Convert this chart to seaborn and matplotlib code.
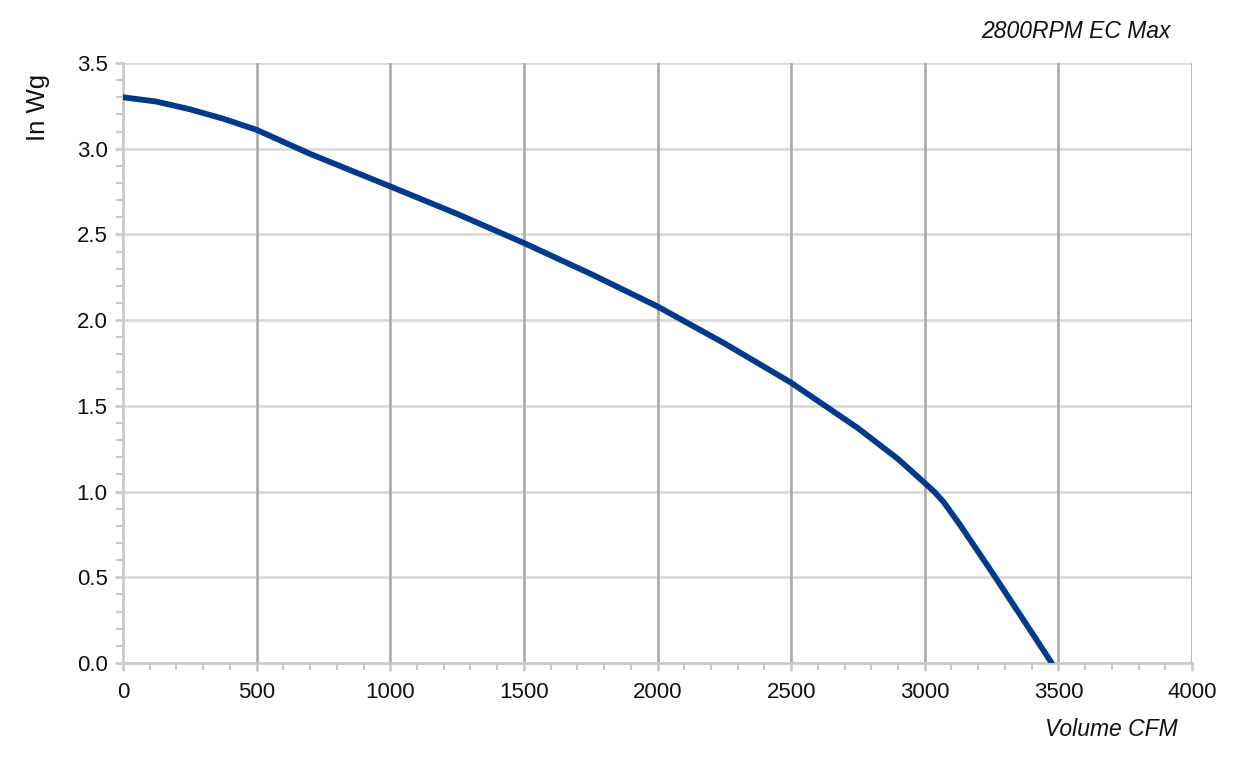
import matplotlib
matplotlib.use("Agg")
import matplotlib.pyplot as plt
from matplotlib.ticker import MultipleLocator
import seaborn as sns
import pandas as pd

# Data
volume_cfm = [0, 125, 250, 375, 500, 600, 700, 850, 1000, 1250, 1500, 1750, 2000,
              2250, 2500, 2750, 2900, 3000, 3035, 3070, 3130, 3245, 3370, 3475]
pressure_inwg = [3.30, 3.275, 3.23, 3.175, 3.11, 3.04, 2.97, 2.875, 2.78, 2.62, 2.45, 2.27, 2.08,
                 1.865, 1.635, 1.37, 1.19, 1.05, 1.0, 0.94, 0.81, 0.545, 0.25, 0.0]
x_ticks = [0, 500, 1000, 1500, 2000, 2500, 3000, 3500, 4000]
y_ticks = [0.0, 0.5, 1.0, 1.5, 2.0, 2.5, 3.0, 3.5]
title_text = "2800RPM EC Max"
x_label = "Volume CFM"
y_label = "In Wg"

df = pd.DataFrame({"cfm": volume_cfm, "inwg": pressure_inwg})

sns.set_theme(style="white")
plt.rcParams["font.family"] = ["Liberation Sans", "DejaVu Sans"]

fig = plt.figure(figsize=(12.45, 7.6), dpi=100)
ax = fig.add_axes([123 / 1245, 1 - 663 / 760, (1192 - 123) / 1245, (663 - 63) / 760])

# grid lines
for yv in y_ticks[1:]:
    ax.axhline(yv, color="#d9d9d9", lw=1.9, zorder=1)
for xv in x_ticks[1:]:
    ax.axvline(xv, color="#aaaaaa", lw=1.9, zorder=1.5)

sns.lineplot(data=df, x="cfm", y="inwg", ax=ax, color="#003b8b", lw=4.2,
             zorder=3, solid_capstyle="round", solid_joinstyle="round")

ax.set_xlim(0, 4000)
ax.set_ylim(0, 3.5)
ax.set_xticks(x_ticks)
ax.set_yticks(y_ticks)
ax.set_xticklabels([str(v) for v in x_ticks])
ax.set_yticklabels([f"{v:.1f}" for v in y_ticks])
ax.xaxis.set_minor_locator(MultipleLocator(100))
ax.yaxis.set_minor_locator(MultipleLocator(0.1))

ax.tick_params(axis="both", which="major", length=6, width=1.9, color="#c8c8c8",
               labelsize=16, labelcolor="#111111", direction="out")
ax.tick_params(axis="x", which="major", pad=8)
ax.tick_params(axis="y", which="major", pad=5)
ax.tick_params(axis="both", which="minor", length=5, width=1.5, color="#c8c8c8", direction="out")
ax.tick_params(axis="x", which="both", bottom=True)
ax.tick_params(axis="y", which="both", left=True)

for s in ["top", "right"]:
    ax.spines[s].set_visible(False)
for s in ["left", "bottom"]:
    ax.spines[s].set_color("#c8c8c8")
    ax.spines[s].set_linewidth(1.9)
    ax.spines[s].set_zorder(2)

ax.set_xlabel("")
ax.set_ylabel("")
fig.text(37.5 / 1245, 1 - 107 / 760, y_label, rotation=90, ha="center", va="center",
         fontsize=18.5, color="#111111")
fig.text(1178 / 1245, 1 - 730 / 760, x_label, ha="right", va="center",
         fontsize=16.5, style="italic", color="#111111")
fig.text(1171 / 1245, 1 - 32 / 760, title_text, ha="right", va="center",
         fontsize=16.5, style="italic", color="#111111")

fig.savefig("out.png", dpi=100, facecolor="white")
